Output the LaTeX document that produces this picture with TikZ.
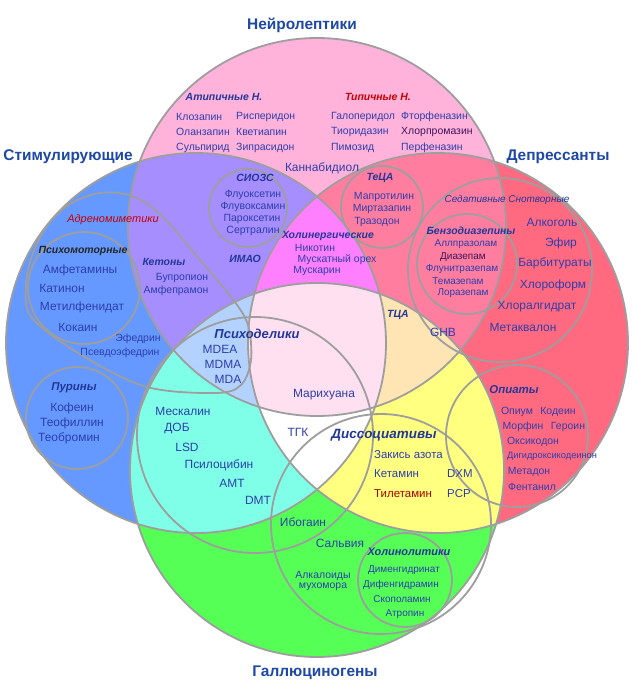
\documentclass[tikz,border=0pt]{standalone}
\usepackage{fontspec}
\setmainfont{Liberation Sans}
\definecolor{fA}{RGB}{255,178,218}
\definecolor{fB}{RGB}{102,153,255}
\definecolor{fC}{RGB}{255,106,128}
\definecolor{fD}{RGB}{85,255,85}
\definecolor{fAB}{RGB}{166,142,255}
\definecolor{fAC}{RGB}{255,126,160}
\definecolor{fBD}{RGB}{128,255,232}
\definecolor{fCD}{RGB}{255,255,128}
\definecolor{fABC}{RGB}{255,128,255}
\definecolor{fABD}{RGB}{180,210,255}
\definecolor{fACD}{RGB}{255,228,180}
\definecolor{fBCD}{RGB}{255,255,255}
\definecolor{fABCD}{RGB}{255,224,240}
\definecolor{ringc}{RGB}{158,158,158}
\definecolor{titlec}{RGB}{30,72,165}
\definecolor{grpc}{RGB}{35,55,155}
\definecolor{itc}{RGB}{45,62,172}
\definecolor{redc}{RGB}{200,0,0}
\definecolor{darkc}{RGB}{60,20,90}
\begin{document}
\begin{tikzpicture}[x=1bp,y=-1bp,
  ring/.style={draw=ringc, line width=1.8bp},
  ttl/.style={text=titlec, inner sep=0, font=\fontsize{15.5}{17}\selectfont\bfseries},
  grp/.style={text=grpc, inner sep=0, font=\fontsize{10.5}{12}\selectfont\bfseries\itshape},
  grpL/.style={text=grpc, inner sep=0, font=\fontsize{13}{15}\selectfont\bfseries\itshape},
  grpM/.style={text=grpc, inner sep=0, font=\fontsize{11.5}{13}\selectfont\bfseries\itshape},
  it/.style={text=itc, inner sep=0, font=\fontsize{10.5}{12}\selectfont},
  itL/.style={text=itc, inner sep=0, font=\fontsize{12}{14}\selectfont},
  itM/.style={text=itc, inner sep=0, font=\fontsize{11.5}{13}\selectfont},
  itS/.style={text=itc, inner sep=0, font=\fontsize{10}{11}\selectfont}
]
\useasboundingbox (0,0) rectangle (633,684);
\fill[white] (0,0) rectangle (633,684);
\def\cA{(317,227) circle[radius=189bp]}
\def\cB{(196,343) circle[radius=190bp]}
\def\cC{(438,343) circle[radius=190bp]}
\def\cD{(317,470) circle[radius=187bp]}
% single regions
\fill[fA] \cA;
\fill[fB] \cB;
\fill[fC] \cC;
\fill[fD] \cD;
% pairs
\begin{scope}\clip \cB; \fill[fAB] \cA; \end{scope}
\begin{scope}\clip \cC; \fill[fAC] \cA; \end{scope}
\begin{scope}\clip \cD; \fill[fBD] \cB; \end{scope}
\begin{scope}\clip \cD; \fill[fCD] \cC; \end{scope}
% triples
\begin{scope}\clip \cA; \clip \cB; \fill[fABC] \cC; \end{scope}
\begin{scope}\clip \cA; \clip \cB; \fill[fABD] \cD; \end{scope}
\begin{scope}\clip \cA; \clip \cC; \fill[fACD] \cD; \end{scope}
\begin{scope}\clip \cB; \clip \cC; \fill[fBCD] \cD; \end{scope}
% quadruple
\begin{scope}\clip \cA; \clip \cB; \clip \cC; \fill[fABCD] \cD; \end{scope}
% outlines
\draw[ring] \cA; \draw[ring] \cB; \draw[ring] \cC; \draw[ring] \cD;
\draw[ring] plot[smooth cycle, tension=0.55] coordinates {(100,193) (132,196) (162,216) (200,260) (232,298) (248,325) (251,360) (241,385) (216,393) (147,387) (83,356) (32,318) (26,286) (32,256) (47,226) (70,204)};
\draw[ring] (84,288) circle[radius=56bp];
\draw[ring] (77,418) circle[radius=51bp];
\draw[ring] (248,208) circle[radius=39bp];
\draw[ring] (382,207) circle[radius=41bp];
\draw[ring] (500,270) circle[radius=92bp];
\draw[ring] (467,264) circle[radius=50bp];
\draw[ring] (517,436) circle[radius=71bp];
\draw[ring] (255,435) circle[radius=118bp];
\draw[ring] (381,524) circle[radius=110bp];
\draw[ring] (405,580) circle[radius=47bp];
% titles
\node[ttl] (tNeu) at (302,25) {Нейролептики};
\node[ttl] (tStim) at (68,157) {Стимулирующие};
\node[ttl] (tDep) at (558,157) {Депрессанты};
\node[ttl] (tHal) at (315,673) {Галлюциногены};
% neuroleptics
\node[grp] (gAtyp) at (224,97) {Атипичные Н.};
\node[grp, text=redc] (gTyp) at (378,97) {Типичные Н.};
\node[it, anchor=west] (n1) at (176,117) {Клозапин};
\node[it, anchor=west] (n2) at (176,132) {Оланзапин};
\node[it, anchor=west] (n3) at (176,148) {Сульпирид};
\node[it, anchor=west] (n4) at (236,117) {Рисперидон};
\node[it, anchor=west] (n5) at (236,132) {Кветиапин};
\node[it, anchor=west] (n6) at (236,148) {Зипрасидон};
\node[it, anchor=west] (n7) at (331,117) {Галоперидол};
\node[it, anchor=west] (n8) at (331,132) {Тиоридазин};
\node[it, anchor=west] (n9) at (331,148) {Пимозид};
\node[it, anchor=west] (n10) at (401,117) {Фторфеназин};
\node[it, anchor=west, text=darkc] (n11) at (401,132) {Хлорпромазин};
\node[it, anchor=west] (n12) at (401,148) {Перфеназин};
\node[itL] (nCbd) at (322,168) {Каннабидиол};
% SSRI
\node[grp] (gSsri) at (255,178) {СИОЗС};
\node[it] (s1) at (253,195) {Флуоксетин};
\node[it] (s2) at (253,207) {Флувоксамин};
\node[it] (s3) at (252,219) {Пароксетин};
\node[it] (s4) at (253,231) {Сертралин};
% TeCA
\node[grp] (gTeca) at (380,178) {ТеЦА};
\node[it] (t1) at (384,197) {Мапротилин};
\node[it] (t2) at (382,209) {Миртазапин};
\node[it] (t3) at (377,222) {Тразодон};
% cholinergic
\node[grp] (gChol) at (328,236) {Холинергические};
\node[it] (c1) at (315,248) {Никотин};
\node[it] (c2) at (337,260) {Мускатный орех};
\node[it] (c3) at (317,271) {Мускарин};
\node[grp] (gMao) at (245,259) {ИМАО};
% stimulants
\node[grp] (gKet) at (164,262) {Кетоны};
\node[it] (k1) at (182,278) {Бупропион};
\node[it] (k2) at (176,291) {Амфепрамон};
\node[text=redc, inner sep=0, font=\fontsize{11}{13}\selectfont\itshape] (gAdr) at (113,220) {Адреномиметики};
\node[text=black!85, inner sep=0, font=\fontsize{10.5}{12}\selectfont\bfseries\itshape] (gPsm) at (83,251) {Психомоторные};
\node[itL] (p1) at (80,270) {Амфетамины};
\node[itL] (p2) at (62,288) {Катинон};
\node[itL] (p3) at (82,307) {Метилфенидат};
\node[itL] (p4) at (78,327) {Кокаин};
\node[it] (e1) at (138,339) {Эфедрин};
\node[it] (e2) at (120,353) {Псевдоэфедрин};
\node[grpM] (gPur) at (74,388) {Пурины};
\node[itL] (u1) at (72,408) {Кофеин};
\node[itL] (u2) at (72,423) {Теофиллин};
\node[itL] (u3) at (69,438) {Теобромин};
% psychedelics
\node[grpL] (gPsy) at (257,334) {Психоделики};
\node[itL] (m1) at (220,349) {MDEA};
\node[itL] (m2) at (223,364) {MDMA};
\node[itL] (m3) at (228,379) {MDA};
\node[itL] (y1) at (183,411) {Мескалин};
\node[itL] (y2) at (177,429) {ДОБ};
\node[itL] (y3) at (187,447) {LSD};
\node[itL] (y4) at (219,465) {Псилоцибин};
\node[itL] (y5) at (232,483) {AMT};
\node[itL] (y6) at (258,500) {DMT};
\node[itL] (nThc) at (298,432) {ТГК};
\node[itL] (nMar) at (324,395) {Марихуана};
% depressants
\node[grp] (gTca) at (398,315) {ТЦА};
\node[itL] (nGhb) at (443,332) {GHB};
\node[text=grpc, inner sep=0, font=\fontsize{10}{12}\selectfont\itshape] (gSed) at (507,200) {Седативные Снотворные};
\node[grp] (gBenz) at (471,231) {Бензодиазепины};
\node[itS] (b1) at (466,244) {Аллпразолам};
\node[itS, text=darkc] (b2) at (463,257) {Диазепам};
\node[itS] (b3) at (462,269) {Флунитразепам};
\node[itS] (b4) at (458,281) {Темазепам};
\node[itS] (b5) at (463,293) {Лоразепам};
\node[itL] (d1) at (552,222) {Алкоголь};
\node[itL] (d2) at (561,243) {Эфир};
\node[itL] (d3) at (555,263) {Барбитураты};
\node[itL] (d4) at (553,285) {Хлороформ};
\node[itL] (d5) at (537,307) {Хлоралгидрат};
\node[itL] (d6) at (523,327) {Метаквалон};
% opiates
\node[grpM] (gOpi) at (514,390) {Опиаты};
\node[it] (o1) at (517,412) {Опиум};
\node[it] (o2) at (558,412) {Кодеин};
\node[it] (o3) at (523,427) {Морфин};
\node[it] (o4) at (568,427) {Героин};
\node[it] (o5) at (533,442) {Оксикодон};
\node[text=itc, inner sep=0, font=\fontsize{9.3}{11}\selectfont] (o6) at (552,456) {Дигидроксикодеинон};
\node[it] (o7) at (529,472) {Метадон};
\node[it] (o8) at (532,487) {Фентанил};
% dissociatives
\node[text=grpc, inner sep=0, font=\fontsize{13.5}{15}\selectfont\bfseries\itshape] (gDis) at (384,435) {Диссоциативы};
\node[itM, anchor=west] (x1) at (374,455) {Закись азота};
\node[itM, anchor=west] (x2) at (374,474) {Кетамин};
\node[itM, anchor=west, text=redc!85!black] (x3) at (374,494) {Тилетамин};
\node[itM, anchor=west] (x4) at (447,474) {DXM};
\node[itM, anchor=west] (x5) at (447,494) {PCP};
\node[itL] (h1) at (303,522) {Ибогаин};
\node[itL] (h2) at (340,543) {Сальвия};
\node[it] (h3) at (323,576) {Алкалоиды};
\node[it] (h4) at (323,587) {мухомора};
% deliriants
\node[grp, font=\fontsize{11}{13}\selectfont\bfseries\itshape] (gAch) at (409,552) {Холинолитики};
\node[itS] (a1) at (404,570) {Дименгидринат};
\node[itS] (a2) at (401,585) {Дифенгидрамин};
\node[itS] (a3) at (402,599) {Скополамин};
\node[itS] (a4) at (405,614) {Атропин};
\end{tikzpicture}
\end{document}
